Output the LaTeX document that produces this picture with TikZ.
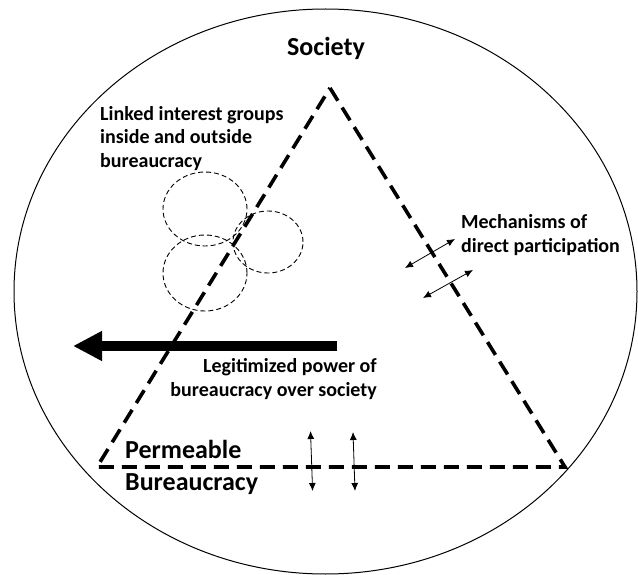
\documentclass[tikz,border=0pt]{standalone}
\usepackage{fontspec}
\setmainfont{Carlito}
\usetikzlibrary{shapes.geometric}
\usetikzlibrary{arrows.meta}

\begin{document}
\begin{tikzpicture}[x=1pt,y=-1pt]
			\tikzstyle{label}=[font=\fontsize{20}{23.7}\selectfont\bfseries,inner sep=0pt,align=left]
			\tikzstyle{biglabel}=[font=\fontsize{26}{32}\selectfont\bfseries,inner sep=0pt,align=left]
			\tikzstyle{edge}=[line width=3.6pt,dash pattern=on 15pt off 8pt]
			\tikzstyle{group}=[draw,ellipse,inner sep=0pt,line width=0.9pt,dash pattern=on 5pt off 3pt]
			\tikzstyle{flow}=[line width=0.8pt,{Latex[length=8pt,width=7pt]}-{Latex[length=8pt,width=7pt]}]
			
			\useasboundingbox (0,0) rectangle (638,575);
			\draw[line width=1pt] (325.5,291.5) ellipse [x radius=311.5,y radius=282.5];
			
			% triangle
			\coordinate (apex) at (330,88);
			\coordinate (left) at (97,467);
			\coordinate (right) at (565,467);
			\draw[edge] (apex) -- (right) -- (left) -- cycle;
			
			% interest groups
			\node[group,minimum width=84pt,minimum height=74pt] (g1) at (205,209) {};
			\node[group,minimum width=70pt,minimum height=62pt] (g2) at (268,242) {};
			\node[group,minimum width=84pt,minimum height=76pt] (g3) at (205,273) {};
			
			% power arrow
			\coordinate (p1) at (337,346);
			\coordinate (p2) at (73,346);
			\draw[line width=9.5pt,-{Triangle[length=29pt,width=28pt]}] (p1) -- (p2);
			
			% participation
			\coordinate (m1) at (405,268);
			\coordinate (m2) at (455,239);
			\coordinate (m3) at (423,298);
			\coordinate (m4) at (473,270);
			\draw[flow] (m1) -- (m2);
			\draw[flow] (m3) -- (m4);
			\coordinate (b1) at (310.5,431);
			\coordinate (b2) at (312.6,491);
			\coordinate (b3) at (353,432);
			\coordinate (b4) at (355,491);
			\draw[flow] (b1) -- (b2);
			\draw[flow] (b3) -- (b4);
			
			% texts (base = last line)
			\node[font=\fontsize{26}{32}\selectfont\bfseries,anchor=base] (society) at (326,56) {Society};
			\node[label,anchor=base west] (linked) at (100,167.5) {Linked interest groups\\inside and outside\\bureaucracy};
			\node[label,anchor=base west] (mech) at (461,252) {Mechanisms of\\direct participation};
			\node[label,align=right,anchor=base east] (legit) at (377,396) {Legitimized power of\\bureaucracy over society};
			\node[biglabel,anchor=base west] (perm) at (125,490) {Permeable\\Bureaucracy};
\end{tikzpicture}
\end{document}
